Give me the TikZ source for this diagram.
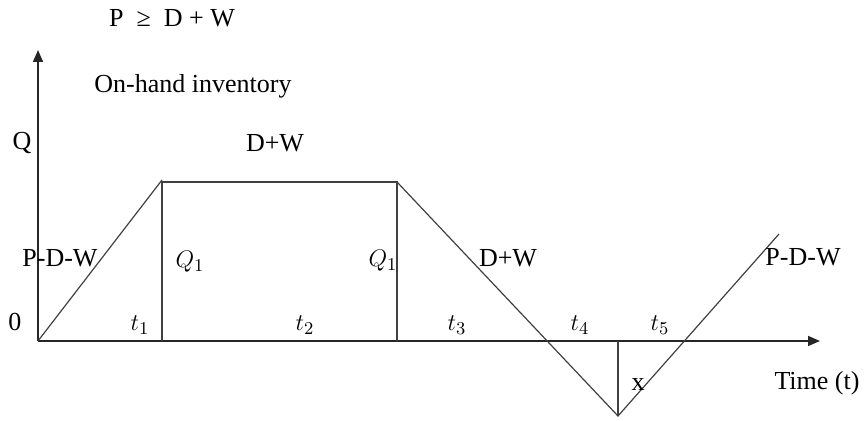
\documentclass[tikz,border=0pt]{standalone}
\usepackage{fontspec}
\setmainfont{Liberation Serif}
\usetikzlibrary{arrows.meta}

\begin{document}
\begin{tikzpicture}[
  x=0.5pt, y=-0.5pt,
  axis/.style={-{Triangle[length=6pt,width=5pt]},line width=0.8pt,black!85},
  stockline/.style={line width=0.6pt,black!75},
  lbl/.style={font=\fontsize{13}{15}\selectfont,inner sep=1pt},
  mathlbl/.style={font=\fontsize{13}{15}\selectfont,inner sep=1pt}
]
  \useasboundingbox (0,0) rectangle (864,421);

  % axes
  \coordinate (origin) at (38,341);
  \coordinate (ytop) at (38,50);
  \coordinate (xend) at (820,341);
  \draw[axis] (origin) -- (ytop);
  \draw[axis] (origin) -- (xend);

  % inventory level
  \coordinate (peakA) at (162,180);
  \coordinate (footA) at (162,341);
  \coordinate (peakB) at (397,182);
  \coordinate (footB) at (397,341);
  \coordinate (lowV) at (618,416);
  \coordinate (footV) at (618,341);
  \coordinate (endE) at (779,234);
  \draw[stockline] (origin) -- (peakA);
  \draw[stockline] (footA) -- (peakA |- peakB) -- (peakB) -- (footB);
  \draw[stockline] (peakB) -- (lowV) -- (endE);
  \draw[stockline] (footV) -- (lowV);

  % labels
  \node[lbl] (cond) at (172,18) {P\enspace≥\enspace D + W};
  \node[lbl] (ylabel) at (193,86) {On-hand inventory};
  \node[lbl] (qmax) at (22,143) {Q};
  \node[lbl] (rateTop) at (275,143) {D+W};
  \node[lbl] (rateUpL) at (60,258) {P-D-W};
  \node[mathlbl] (qA) at (190,262) {$Q_1$};
  \node[mathlbl] (qB) at (383,261) {$Q_1$};
  \node[lbl] (rateDown) at (508,258) {D+W};
  \node[lbl] (zero) at (15,322) {0};
  \node[mathlbl] (tA) at (140,325) {$t_1$};
  \node[mathlbl] (tB) at (305,325) {$t_2$};
  \node[mathlbl] (tC) at (457,325) {$t_3$};
  \node[mathlbl] (tD) at (580,325) {$t_4$};
  \node[mathlbl] (tE) at (660,325) {$t_5$};
  \node[lbl] (short) at (638,385) {x};
  \node[lbl] (xlabel) at (817,383) {Time (t)};
  \node[lbl] (rateUpR) at (803,257) {P-D-W};
\end{tikzpicture}
\end{document}
